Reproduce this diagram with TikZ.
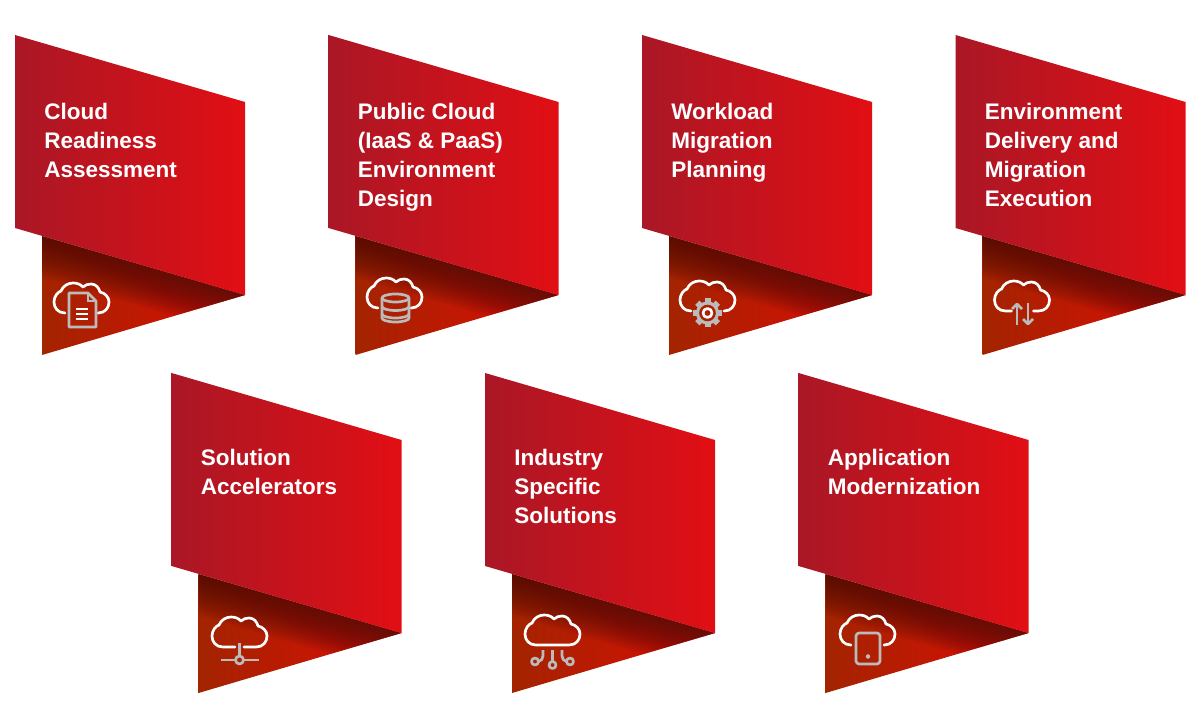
\documentclass[tikz,border=0pt]{standalone}
\usepackage{fontspec}
\setmainfont{Liberation Sans}
\definecolor{cardred}{HTML}{FF0A0A}
\definecolor{carddark}{HTML}{8C1C30}
\definecolor{tailleft}{HTML}{A32400}
\definecolor{tailright}{HTML}{DC0C06}
\definecolor{tailshadow}{HTML}{4F0C06}
\definecolor{icongrey}{HTML}{BBBBBB}
\tikzset{
  cardtext/.style={anchor=north west, inner sep=0pt, align=left, text=white,
    font=\fontsize{16}{20.55}\selectfont\bfseries},
  cloudline/.style={draw=white, line width=1.9pt, line cap=round, line join=round},
  iconline/.style={draw=icongrey, line width=1.9pt, line join=round}
}
% #1, #2: where the cloud's bottom line stops and starts again
\newcommand\cloudline[2]{
  \draw[cloudline] (#1,31) -- (12,31) .. controls (5,31) and (1,26) .. (1,20)
    .. controls (1,14) and (5,10) .. (8,9) .. controls (10,4) and (15,1) .. (20,1)
    .. controls (24,1) and (27,2) .. (30,5) .. controls (32,3) and (35,2) .. (38,2)
    .. controls (43,2) and (46,6) .. (47,10) .. controls (52,11) and (56,15) .. (56,20)
    .. controls (56,26) and (52,31) .. (45,31) -- (#2,31);
}
\newcommand\iconDoc{
  \cloudline{12}{46}
  \draw[iconline] (16,11) -- (35,11) -- (43,19) -- (43,45) -- (16,45) -- cycle;
  \draw[icongrey, line width=.8pt] (35,11) -- (35,19) -- (43,19);
  \foreach \y in {27,32,37}{
    \draw[cloudline, line cap=butt] (23,\y) -- (35,\y);
  }
}
\newcommand\iconBase{
  \cloudline{12}{46}
  \draw[iconline] (16,21) -- (16,41) arc[start angle=180, end angle=0, x radius=13.5, y radius=4]
    -- (43,21);
  \draw[iconline] (29.5,21) ellipse (13.5 and 4);
  \foreach \y in {29.5,37}{
    \draw[iconline] (16,\y) arc[start angle=180, end angle=0, x radius=13.5, y radius=4];
  }
}
\newcommand\iconGear{
  \cloudline{12}{45}
  \foreach \a in {0,45,...,315}{
    \fill[icongrey, rotate around={\a:(28.5,33)}] (25.5,18.5) rectangle (31.5,23);
  }
  \draw[iconline, line width=2.2pt] (28.5,33) circle (10);
  \draw[cloudline] (28.5,33) circle (4.5);
}
\newcommand\iconArrows{
  \cloudline{18}{40}
  \draw[iconline] (23.5,45) -- (23.5,24);
  \draw[iconline] (18.5,29) -- (23.5,24) -- (28.5,29);
  \draw[iconline] (34.5,23) -- (34.5,44);
  \draw[iconline] (29.5,39) -- (34.5,44) -- (39.5,39);
}
\newcommand\iconNet{
  \cloudline{24}{33}
  \draw[iconline] (28.5,27) -- (28.5,40);
  \draw[iconline] (9.5,44) -- (24.5,44);
  \draw[iconline] (32.5,44) -- (47.5,44);
  \draw[iconline] (28.5,44) circle (4);
}
\newcommand\iconCircuit{
  \cloudline{28}{28}
  \draw[iconline] (28.5,36) -- (28.5,47.5);
  \draw[iconline] (28.5,51) circle (3.5);
  \draw[iconline] (19,36) -- (19,42) .. controls (19,45) and (17,47) .. (14.5,47.5);
  \draw[iconline] (11,47.5) circle (3.5);
  \draw[iconline] (38,36) -- (38,42) .. controls (38,45) and (40,47) .. (42.5,47.5);
  \draw[iconline] (46,47.5) circle (3.5);
}
\newcommand\iconTablet{
  \cloudline{11}{46}
  \draw[iconline, rounded corners=2.2pt] (17,19) rectangle (41,50);
  \draw[iconline, line width=1.2pt] (29,42.5) circle (1.6);
}
\begin{document}
\begin{tikzpicture}[x=0.025cm,y=-0.025cm]
\useasboundingbox (0,0) rectangle (1200,720);
\foreach \cx/\cy/\ty/\ix/\iy/\icon/\n/\lab in {
  15/35/68/38/247/Doc/cloud/{Cloud\\Readiness\\Assessment},
  328.5/35/68/37.5/242/Base/public/{Public Cloud\\(IaaS \& PaaS)\\Environment\\Design},
  642/35/68/37/245/Gear/workload/{Workload\\Migration\\Planning},
  955.5/35/68/38/245/Arrows/delivery/{Environment\\Delivery and\\Migration\\Execution},
  171.5/373/76/39.5/243/Net/solution/{Solution\\Accelerators},
  485/373/76/39/241/Circuit/industry/{Industry\\Specific\\Solutions},
  798.5/373/76/40.5/241/Tablet/application/{Application\\Modernization}}{
  \begin{scope}[shift={(\cx,\cy)}]
    % tail below the card, with the card's shadow on it
    \begin{scope}
      \clip (27,201) -- (230,260) -- (27,320) -- cycle;
      \shade[left color=tailleft, right color=tailright] (27,201) rectangle (230,320);
      \foreach \d in {2,4,...,40}{
        \fill[tailshadow, opacity=.07, rotate around={-16.2:(27,201)}]
          (10,195) rectangle (240,201+\d);
      }
    \end{scope}
    \begin{scope}
      \clip (0,0) -- (230,67) -- (230,260) -- (0,193) -- cycle;
      \shade[left color=carddark, right color=cardred, rotate around={41.5:(115,130)}]
        (-13,-90) rectangle (243,350);
    \end{scope}
    \node[cardtext] (\n) at (29,\ty) {\lab};
    \begin{scope}[shift={(\ix,\iy)}]
      \csname icon\icon\endcsname
    \end{scope}
  \end{scope}
}
\end{tikzpicture}
\end{document}
